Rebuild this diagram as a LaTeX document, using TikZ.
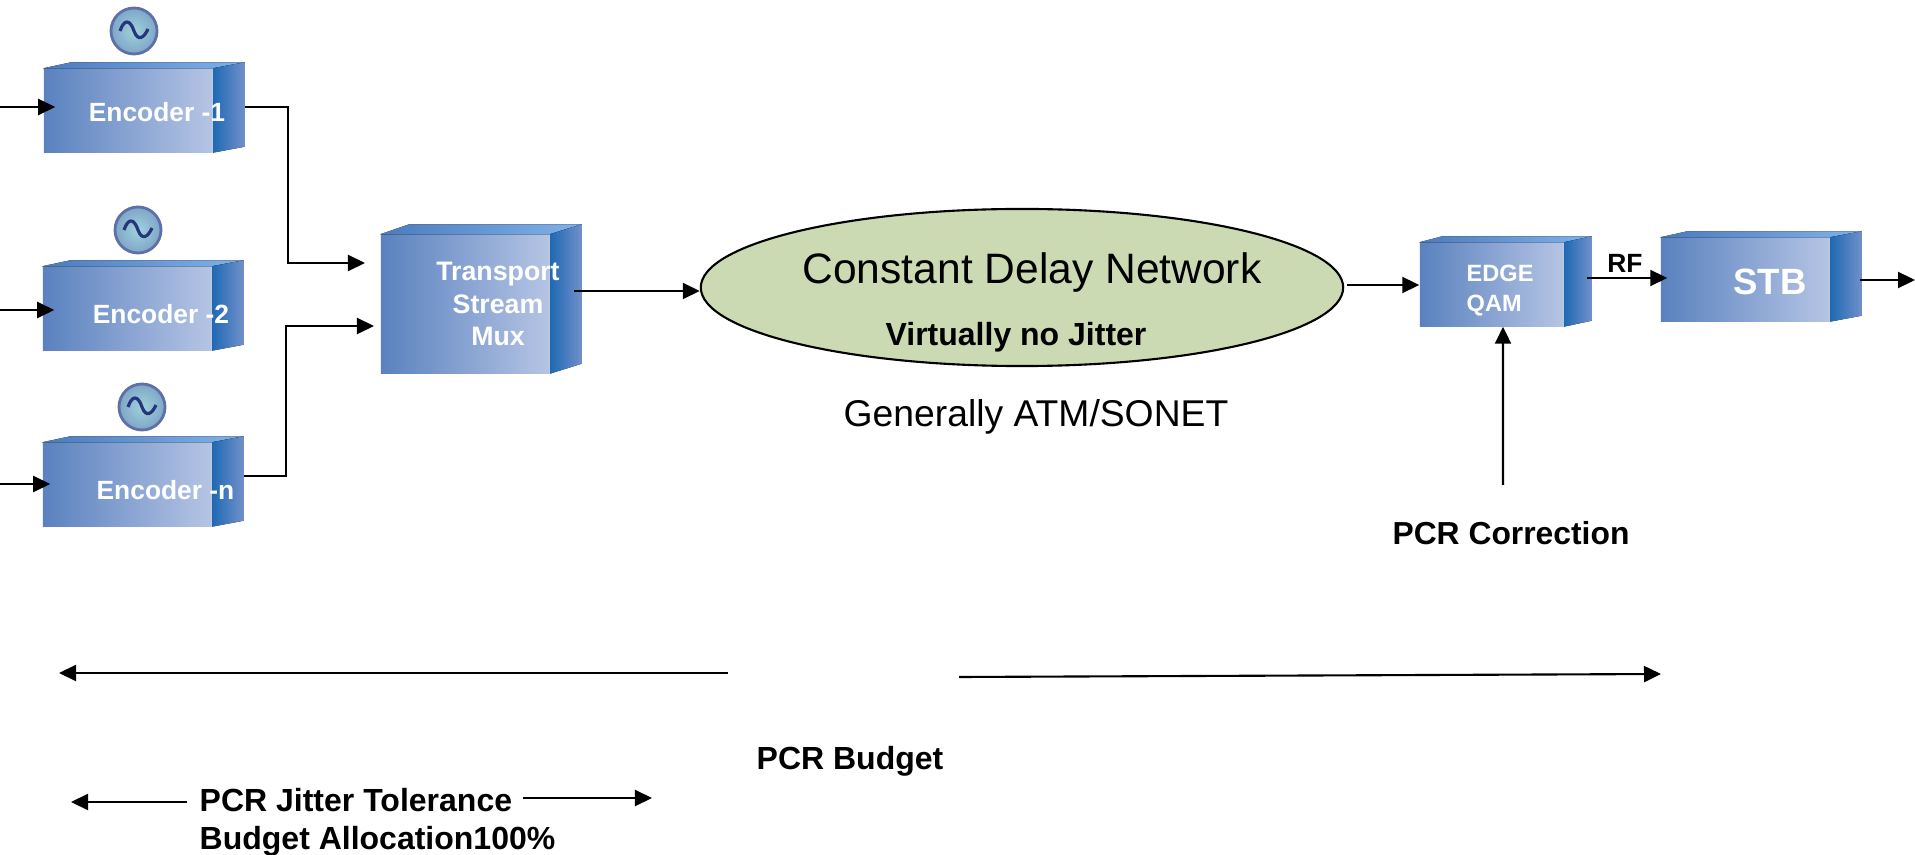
\documentclass[tikz,border=0pt]{standalone}
\usepackage{fontspec}
\setmainfont{Liberation Sans}
\usetikzlibrary{arrows.meta, shapes.geometric}
\definecolor{faceL}{HTML}{5A82BF}
\definecolor{faceR}{HTML}{B5C4E4}
\definecolor{topL}{HTML}{4C7BBE}
\definecolor{topM}{HTML}{8E9ECE}
\definecolor{topR}{HTML}{7FB2EA}
\definecolor{sideL}{HTML}{1E69B4}
\definecolor{sideR}{HTML}{7190CA}
\definecolor{netgreen}{HTML}{CCDAB4}
\definecolor{clockIn}{HTML}{9FD3DA}
\definecolor{clockOut}{HTML}{7FA5C8}
\definecolor{clockRim}{HTML}{5F70A6}
\definecolor{waveBlue}{HTML}{27357F}
\tikzstyle{cube}=[rectangle, inner sep=0pt, left color=faceL, right color=faceR, minimum width=1.68cm, minimum height=0.83cm]
\tikzstyle{boxtext}=[text=white, font=\bfseries\fontsize{7.5}{9}\selectfont, inner sep=0pt]
\tikzstyle{clock}=[circle, draw=clockRim, line width=0.8pt, inner color=clockIn, outer color=clockOut, minimum size=0.46cm, inner sep=0pt]
\tikzstyle{wave}=[draw=waveBlue, line width=0.9pt]
\tikzstyle{flow}=[line width=0.6pt, -{Triangle[length=0.17cm,width=0.16cm]}]
\tikzstyle{bigtext}=[inner sep=0pt, font=\bfseries\fontsize{9.1}{10.8}\selectfont]
\begin{document}
\begin{tikzpicture}[x=0.01cm, y=-0.01cm]
\useasboundingbox (0,0) rectangle (1915,855);

\node[cube] (enc1) at (128,110.5) {};
\node[cube] (enc2) at (127,308.5) {};
\node[cube] (encn) at (127,484.5) {};
\node[cube, minimum height=1.38cm] (mux) at (465,304) {};
\node[cube, minimum width=1.43cm] (qam) at (1491.5,284.5) {};
\node[cube] (stb) at (1745,279.5) {};

% top and side of each block
\foreach \n/\d/\h/\s in {enc1/32/6/28, enc2/32/6/28, encn/32/6/28, mux/32/10/29, qam/28/6/23, stb/32/6/27} {
  \fill[left color=topL, middle color=topM, right color=topR] (\n.north west) -- ++(\s,-\h) -- ([shift={(\d,-\h)}]\n.north east) -- (\n.north east) -- cycle;
  \fill[left color=sideL, right color=sideR] (\n.north east) -- ++(\d,-\h) -- ([shift={(\d,-\h)}]\n.south east) -- (\n.south east) -- cycle;
}

\node[boxtext] (enc1txt) at (157,112) {Encoder -1};
\node[boxtext] (enc2txt) at (161,314) {Encoder -2};
\node[boxtext] (encntxt) at (165.5,490) {Encoder -n};
\node[boxtext, align=center, font=\bfseries\fontsize{7.6}{9.2}\selectfont] (muxtxt) at (498,304) {Transport\\Stream\\Mux};
\node[boxtext, align=left, font=\bfseries\fontsize{6.7}{8.5}\selectfont, anchor=west] (qamtxt) at (1466,291) {EDGE\\QAM};
\node[boxtext, font=\bfseries\fontsize{10.4}{12}\selectfont] (stbtxt) at (1770,282) {STB};

\node[clock] (clk1) at (134,31) {};
\node[clock] (clk2) at (138,230) {};
\node[clock] (clkn) at (142,407) {};
\foreach \c in {clk1, clk2, clkn} {
  \draw[wave] ([shift={(-14,0)}]\c.center) .. controls +(4,-12) and +(-4,-12) .. (\c.center) .. controls +(4,11) and +(-4,9) .. ([shift={(14,-2)}]\c.center);
}

\node[ellipse, draw=black, fill=netgreen, line width=0.6pt, minimum width=6.42cm, minimum height=1.57cm, inner sep=0pt] (net) at (1022,287.5) {};
\node[inner sep=0pt, font=\fontsize{12.1}{14}\selectfont] (nettxt) at (1032,272.5) {Constant Delay Network};
\node[bigtext] (jitter) at (1016,337) {Virtually no Jitter};
\node[inner sep=0pt, font=\fontsize{10.6}{12}\selectfont] (atm) at (1036,417) {Generally ATM/SONET};
\node[bigtext, font=\bfseries\fontsize{9.05}{11}\selectfont] (pcrfix) at (1511,533) {PCR Correction};
\node[bigtext, font=\bfseries\fontsize{7.5}{9}\selectfont] (rf) at (1625,263) {RF};
\node[bigtext] (budget) at (850,761) {PCR Budget};
\node[bigtext, align=left, anchor=north west] (alloc) at (199,788) {PCR Jitter Tolerance\\Budget Allocation100\%};

\coordinate (in1) at (0,107);
\coordinate (in2) at (0,310);
\coordinate (inn) at (0,484);
\coordinate (outstb) at (1915,280);
\coordinate (fixup) at (1503,485);
\coordinate (bl) at (59,673);
\coordinate (blend) at (728,673);
\coordinate (br) at (1661,674);
\coordinate (brstart) at (959,677);
\coordinate (al) at (71,802);
\coordinate (alstart) at (187,802);
\coordinate (ar) at (652,798);
\coordinate (arstart) at (523,798);

\draw[flow] (in1) -- ([shift={(12,-3.5)}]enc1.west);
\draw[flow] (in2) -- ([shift={(12,1.5)}]enc2.west);
\draw[flow] (inn) -- ([shift={(8,-0.5)}]encn.west);
\draw[flow] ([shift={(32,-3.5)}]enc1.east) -| (288,263) -- (365,263);
\draw[flow] ([shift={(32,-8.5)}]encn.east) -| (286,326) -- (374,326);
\draw[flow] ([shift={(24,-13)}]mux.east) -- (net.west |- 700,291);
\draw[flow] ([shift={(3,-2.5)}]net.east) -- (qam.west |- 1420,285);
\draw[flow] ([shift={(23,-6.5)}]qam.east) -- ([shift={(7,-1.5)}]stb.west);
\draw[flow] ([shift={(30,0.5)}]stb.east) -- (outstb);
\draw[flow] (fixup) -- ([xshift=0.115cm]qam.south);
\draw[flow] (blend) -- (bl);
\draw[flow] (brstart) -- (br);
\draw[flow] (alstart) -- (al);
\draw[flow] (arstart) -- (ar);

\end{tikzpicture}
\end{document}
